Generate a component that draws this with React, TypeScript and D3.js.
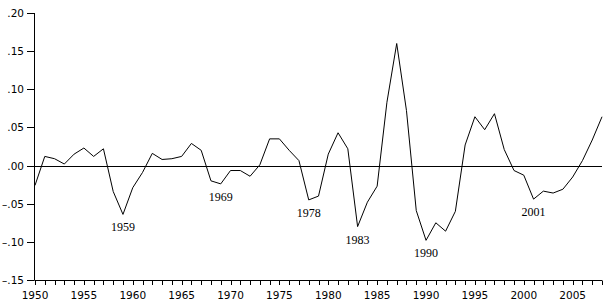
import React from "react";
import * as d3 from "d3";

const years: number[] = d3.range(1950, 2009);
const values: number[] = [
  -0.026, 0.012, 0.009, 0.002, 0.015, 0.023, 0.012, 0.022, -0.034, -0.064,
  -0.029, -0.009, 0.016, 0.008, 0.009, 0.012, 0.029, 0.020, -0.020, -0.024,
  -0.0065, -0.0065, -0.014, 0.001, 0.035, 0.035, 0.020, 0.0065, -0.045, -0.040,
  0.015, 0.043, 0.022, -0.080, -0.048, -0.027, 0.083, 0.160, 0.072, -0.059,
  -0.098, -0.075, -0.086, -0.060, 0.027, 0.064, 0.047, 0.068, 0.021, -0.0065,
  -0.0126, -0.044, -0.0335, -0.036, -0.031, -0.015, 0.0065, 0.0335, 0.064,
];
const yTicks: number[] = [0.2, 0.15, 0.1, 0.05, 0, -0.05, -0.1, -0.15];
const yTickLabels: string[] = [".20", ".15", ".10", ".05", ".00", "–.05", "–.10", "–.15"];
const xMajorTicks: number[] = [1950, 1955, 1960, 1965, 1970, 1975, 1980, 1985, 1990, 1995, 2000, 2005];
const annotatedYears: number[] = [1959, 1969, 1978, 1983, 1990, 2001];

export default function App() {
  const W = 608, H = 304;
  const x = d3.scaleLinear().domain([1950, 2008]).range([35, 602]);
  const y = d3.scaleLinear().domain([-0.15, 0.2]).range([280, 13]);
  const line = d3
    .line<number>()
    .x((_, i) => x(years[i]))
    .y((d) => y(d));
  const tickFont = "'DejaVu Sans', sans-serif";
  const serif = "'Liberation Serif', 'DejaVu Serif', serif";
  return (
    <svg width={W} height={H} style={{ position: "absolute", left: 0, top: 0, background: "#fff" }}>
      {/* y axis */}
      <line x1={34.5} x2={34.5} y1={y(0.2)} y2={y(-0.15)} stroke="#000" strokeWidth={1} />
      {yTicks.map((t, i) => (
        <g key={t}>
          <line x1={27} x2={34.5} y1={Math.round(y(t)) + 0.5} y2={Math.round(y(t)) + 0.5} stroke="#000" />
          <text x={24} y={y(t) + 4} textAnchor="end" fontFamily={tickFont} fontSize={10.5} fill="#000">
            {yTickLabels[i]}
          </text>
        </g>
      ))}
      {/* x axis */}
      <line x1={34.5} x2={602} y1={280.5} y2={280.5} stroke="#000" />
      {years.map((yr) => (
        <line key={yr} x1={Math.round(x(yr)) + 0.5} x2={Math.round(x(yr)) + 0.5} y1={280.5} y2={285} stroke="#000" />
      ))}
      {xMajorTicks.map((yr) => (
        <text key={yr} x={x(yr)} y={299} textAnchor="middle" fontFamily={tickFont} fontSize={10.5} fill="#000">
          {yr}
        </text>
      ))}
      {/* zero line */}
      <line x1={34.5} x2={602} y1={Math.round(y(0)) + 0.5} y2={Math.round(y(0)) + 0.5} stroke="#000" />
      {/* series */}
      <path d={line(values) || ""} fill="none" stroke="#000" strokeWidth={1} />
      {annotatedYears.map((yr) => {
        const v = values[yr - 1950];
        return (
          <text key={yr} x={x(yr)} y={y(v) + 17} textAnchor="middle" fontFamily={serif} fontSize={12} fill="#000">
            {yr}
          </text>
        );
      })}
    </svg>
  );
}
